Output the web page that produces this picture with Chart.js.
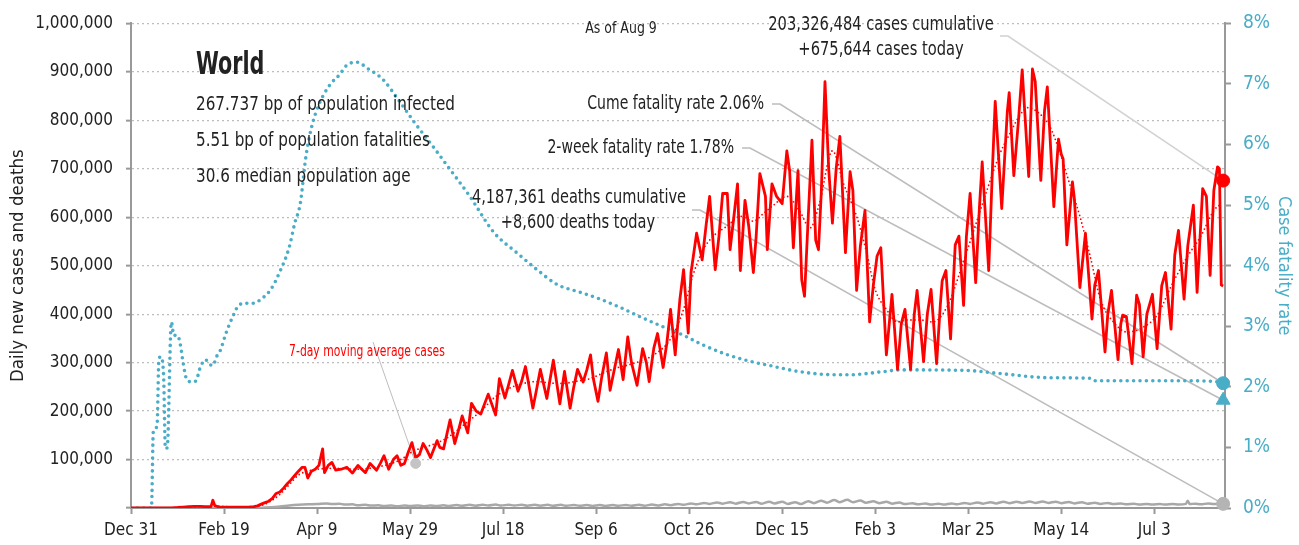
<!DOCTYPE html>
<html>
<head>
<meta charset="utf-8">
<script src="https://cdn.jsdelivr.net/npm/chart.js@4.4.1/dist/chart.umd.min.js"></script>
<style>
    body { margin: 0; background: #fff; }
    #wrap { width: 1299px; height: 545px; }
</style>
</head>
<body>
<div id="wrap"><canvas id="myChart" width="1299" height="545"></canvas></div>
<script>
// x axis = days since Dec 31 2019
const tickDays = [0, 50, 100, 150, 200, 250, 300, 350, 400, 450, 500, 550];
const tickLabels = ["Dec 31", "Feb 19", "Apr 9", "May 29", "Jul 18", "Sep 6", "Oct 26", "Dec 15", "Feb 3", "Mar 25", "May 14", "Jul 3"];

// daily new cases
const caseDays = [0,10,20,22,25,28,31,34,37,40,43,44,45,47,50,55,60,63,66,68,70,72,74,76,78,80,82,84,86,88,90,92,93.5,95,97,99,101,103,104,106,108,110,113,116,119,122,124,126,128.5,132,134,136,138.5,141,143,145,147,149,151,153,155,157,159,161,164.5,166,168,171.5,174,176,178,181,183,185.5,188,192,196,198,201,203,205,208,210,212,213.5,216,218,220,223.5,225,227,230.5,233,236,238,240,243,245,247,248.5,251,253,255.5,257.5,260,262,264.5,267,269,272,275,277,278.5,281,283,286,288,290,292.5,295,297,299.5,301,304,307,309,311,314,316,318,320.5,322,324,326,327.5,330,332,334.5,336,338,341,342,344.5,347,350,352.5,354,356,358.5,360.5,362,364,366,368,369.5,371,373,375,377,379,381,384,386.5,388,390,392,394.5,397,399,401,403,406,409,412,414,416,419,421,422.5,426,428,430,433,435,436,438,440.5,443,445,447.5,449,451,454,456,457.5,461,463,464.5,468,471,472,474.5,477,479,482.5,484.5,486,489,491,492.5,496,498.5,500,501,503,506,507,510,513,516.5,518,520,523.5,525,527,530.5,532,533,535,538,540.5,542,544,546,549,551.5,554,556,559,561,563,566,568,571,573,576,578,580,582,584,585,586,587];
const caseCounts = [0,0,100,300,1000,2000,3000,3500,3500,3000,3000,16000,5000,2500,2000,1500,1500,2000,3000,4500,8000,11000,14000,20000,30000,33000,41000,50000,58000,67000,76000,84000,84000,62000,76000,80000,88000,122000,73000,88000,94000,78000,80000,84000,72000,88000,80000,73000,92000,78000,92000,108000,80000,100000,108000,88000,92000,115000,135000,104000,110000,133000,120000,104000,139000,125000,122000,182000,133000,160000,190000,155000,216000,200000,194000,235000,192000,267000,227000,255000,284000,241000,262000,292000,261000,206000,245000,286000,226000,260000,305000,215000,282000,206000,250000,286000,260000,285000,316000,267000,220000,270000,320000,243000,290000,327000,265000,353000,300000,253000,329000,300000,261000,330000,360000,290000,340000,410000,316000,430000,492000,361000,486000,567000,512000,580000,643000,492000,560000,649000,649000,533000,600000,669000,490000,635000,582000,486000,560000,690000,643000,533000,669000,643000,628000,737000,696000,537000,696000,471000,437000,600000,759000,553000,533000,650000,880000,700000,588000,700000,767000,527000,694000,655000,449000,540000,614000,384000,460000,520000,537000,316000,441000,286000,380000,410000,286000,400000,449000,302000,400000,451000,298000,420000,469000,490000,349000,543000,561000,418000,560000,649000,465000,620000,714000,490000,700000,839000,618000,818000,857000,686000,800000,904000,684000,906000,880000,676000,820000,869000,622000,761000,730000,720000,543000,673000,640000,455000,567000,390000,460000,490000,322000,400000,449000,306000,380000,398000,395000,298000,439000,420000,312000,400000,441000,329000,459000,486000,369000,522000,573000,431000,541000,625000,445000,659000,643000,480000,655000,704000,700000,460000,458000];

// 7-day moving average of cases
const avgDays = [0,20,30,40,45,50,55,60,65,70,75,80,85,90,95,100,110,120,130,140,145,152,160,170,180,188,196,205,212,218,225,232,240,245,256,262,268,275,281,290,297,302,307.5,313,320.5,327.5,334.5,340,345,352.5,359.5,365,370,377,383,390,395,400,406,412,417,424,431,439,446,453,460,467,472,478,482,487,494,499.5,504.5,510,515.5,521,528,535.5,544,551.5,560,568,575,582,586];
const avgCounts = [0,200,2000,2800,4500,3000,2000,1500,2500,5000,14000,28000,48000,68000,76000,80000,82000,80000,83000,92000,100000,118000,128000,145000,175000,200000,230000,250000,258000,261000,258000,257000,262000,265000,282000,290000,296000,305000,316000,349000,410000,480000,533000,561000,582000,602000,592000,608000,624000,643000,612000,578000,628000,737000,669000,602000,533000,451000,410000,384000,388000,388000,384000,418000,492000,573000,655000,731000,770000,812000,826000,818000,786000,731000,669000,602000,520000,431000,384000,363000,373000,398000,465000,520000,561000,614000,628000];

// daily deaths
const deathDays = [0,20,30,40,50,60,65,70,75,80,85,90,95,100,105,108,112,115,119,122,126,129,133,136,140,143,147,150,154,157,161,164,168,171,175,178,182,185,189,192,196,199,203,206,210,213,217,220,224,227,231,234,238,241,245,248,252,255,259,262,266,269,273,276,280,283,287,290,294,297,301,304,308,311,315,318,322,325,329,332,336,339,343,346,350,353,357,360,364,367,371,374,378,381,385,388,392,395,399,402,406,409,413,416,420,423,427,430,434,437,441,444,448,451,455,458,462,465,469,472,476,479,483,486,490,493,497,500,504,507,511,514,518,521,525,528,532,535,539,542,546,549,553,556,560,563,567,568,569,572,575,579,582,586,587];
const deathCounts = [0,20,50,100,100,100,300,600,1500,3000,5000,6500,7500,8000,9500,8000,9000,7000,7500,5500,6500,5000,5500,4000,5000,3800,5000,4000,5200,3800,5000,4000,5500,4200,6000,4500,6500,4800,6800,5000,7000,5000,6800,5000,6800,4800,6500,4800,6500,4500,6500,4500,6300,4500,6000,4300,6000,4300,6000,4500,6300,4500,6500,4800,7000,5200,7500,5800,8500,6500,9500,7500,10500,8500,11500,9000,12000,9000,12500,9500,12500,9000,13000,9500,13000,8500,12000,8000,14000,10000,15000,11000,16500,12000,17000,12000,15500,11000,14000,10000,13000,9000,11500,8000,10000,7500,9500,7000,9000,7000,9500,7500,10500,8500,11500,9000,12000,9500,13000,10000,13000,10500,13500,10500,13500,10500,13000,10000,12500,9500,12000,9000,11000,8500,10500,8000,9500,7500,9000,7000,8500,7000,8000,7000,8500,7000,8500,15000,8000,9000,7500,9500,8000,10000,8600];

// case fatality rate (%), right axis
const cfrDays = [0,11,12,14,15,16,17.5,18.5,19.5,21.7,23,25,26.5,28,30,33,35,37,40,42,44,46,48,51,55,58,62,66,70,75,80,85,88,91,94,97,101,107,112,116,121.5,127,135.5,143,152,162.5,170,182,195,207.5,218,229,241.5,252,263,272,286,297,307.5,320.5,333,343.5,359.5,377.5,386.5,404,413.5,449.5,467,494,516,518,539,566,582,587];
const cfrValues = [0,0,1.27,1.35,2.45,2.5,2.2,0.98,1.0,3.07,2.85,2.85,2.7,2.4,2.12,2.08,2.1,2.3,2.45,2.38,2.35,2.5,2.6,2.88,3.18,3.35,3.38,3.38,3.45,3.6,3.9,4.3,4.7,5.03,5.8,6.28,6.66,6.99,7.15,7.31,7.36,7.26,7.07,6.77,6.38,5.96,5.65,5.15,4.55,4.21,3.94,3.69,3.56,3.45,3.31,3.18,2.99,2.85,2.69,2.53,2.42,2.35,2.25,2.2,2.2,2.25,2.28,2.27,2.22,2.15,2.14,2.1,2.1,2.1,2.09,2.06];

// latest values (Aug 9)
const lastDay = 587;
const lastCases = 675644;
const lastDeaths = 8600;
const cumeCfr = 2.06;
const twoWeekCfr = 1.78;
const avgNoteDay = 153;
const avgNoteValue = 92000;

const fontFam = "'DejaVu Sans Condensed', 'Liberation Sans Narrow', sans-serif";
const red = '#ff0000';
const teal = '#4aadc7';
const grey = '#a8a8a8';
const ink = '#222222';

function pairs(xs, ys) {
    let out = [];
    for (let i = 0; i < xs.length; i++) {
        out.push({ x: xs[i], y: ys[i] });
    }
    return out;
}

// leader lines (under the data) and text notes (on top)
const notesPlugin = {
    id: 'notes',
    beforeDatasetsDraw(chart) {
        const ctx = chart.ctx;
        const x = chart.scales.x, y = chart.scales.y, y2 = chart.scales.y2;
        const endX = x.getPixelForValue(lastDay);
        function leader(x0, y0, x1, y1, color, w) {
            ctx.save();
            ctx.strokeStyle = color;
            ctx.lineWidth = w;
            ctx.beginPath();
            ctx.moveTo(x0, y0);
            ctx.lineTo(x0 + 8, y0);
            ctx.lineTo(x1, y1);
            ctx.stroke();
            ctx.restore();
        }
        leader(1000, 36, endX, y.getPixelForValue(lastCases), '#d2d2d2', 1.6);
        leader(772, 104, endX, y2.getPixelForValue(cumeCfr), '#bdbdbd', 1.6);
        leader(742, 148, endX, y2.getPixelForValue(twoWeekCfr), '#bdbdbd', 1.6);
        leader(692, 210, endX, y.getPixelForValue(lastDeaths), '#bdbdbd', 1.6);
        // 7-day average pointer
        ctx.save();
        ctx.strokeStyle = '#bdbdbd';
        ctx.lineWidth = 1;
        ctx.beginPath();
        ctx.moveTo(373, 342);
        ctx.lineTo(x.getPixelForValue(avgNoteDay), y.getPixelForValue(avgNoteValue));
        ctx.stroke();
        ctx.restore();
    },
    afterDraw(chart) {
        const ctx = chart.ctx;
        // sx squeezes the text sideways, the reference face is narrow
        function txt(s, px, py, size, align, sx, color, weight) {
            ctx.save();
            ctx.font = (weight || 'normal') + ' ' + size + 'px ' + fontFam;
            ctx.fillStyle = color || ink;
            ctx.textAlign = align;
            ctx.textBaseline = 'middle';
            ctx.translate(px, py);
            ctx.scale(sx, 1);
            ctx.fillText(s, 0, 0);
            ctx.restore();
        }
        txt('World', 196, 66, 32, 'left', 0.72, ink, 'bold');
        txt('267.737 bp of population infected', 196, 105, 20, 'left', 0.845);
        txt('5.51 bp of population fatalities', 196, 141, 20, 'left', 0.845);
        txt('30.6 median population age', 196, 177, 20, 'left', 0.845);
        txt('As of Aug 9', 621, 29, 15, 'center', 0.93);
        txt('203,326,484 cases cumulative', 881, 25, 20, 'center', 0.815);
        txt('+675,644 cases today', 881, 50, 20, 'center', 0.815);
        txt('Cume fatality rate 2.06%', 764, 104, 20, 'right', 0.78);
        txt('2-week fatality rate 1.78%', 734, 148, 20, 'right', 0.78);
        txt('4,187,361 deaths cumulative', 579, 198, 20, 'center', 0.81);
        txt('+8,600 deaths today', 578, 223, 20, 'center', 0.81);
        txt('7-day moving average cases', 367, 352, 15, 'center', 0.8, red);
    }
};

Chart.defaults.font.family = fontFam;
Chart.defaults.color = ink;

const ctx = document.getElementById('myChart').getContext('2d');
const myChart = new Chart(ctx, {
    type: 'line',
    data: {
        datasets: [
            // end markers
            { data: [{ x: lastDay, y: lastCases }], yAxisID: 'y', showLine: false, pointRadius: 6.5, pointBackgroundColor: red, pointBorderColor: red, clip: false },
            { data: [{ x: lastDay, y: cumeCfr }], yAxisID: 'y2', showLine: false, pointRadius: 6.5, pointBackgroundColor: teal, pointBorderColor: teal, clip: false },
            { data: [{ x: lastDay, y: twoWeekCfr }], yAxisID: 'y2', showLine: false, pointStyle: 'triangle', pointRadius: 8, pointBackgroundColor: teal, pointBorderColor: teal, clip: false },
            { data: [{ x: lastDay, y: lastDeaths }], yAxisID: 'y', showLine: false, pointRadius: 6.5, pointBackgroundColor: '#b4b4b4', pointBorderColor: '#b4b4b4', clip: false },
            { data: [{ x: avgNoteDay, y: avgNoteValue }], yAxisID: 'y', showLine: false, pointRadius: 5, pointBackgroundColor: '#c4c4c4', pointBorderColor: '#c4c4c4' },
            // 7-day avg (dotted red)
            { data: pairs(avgDays, avgCounts), yAxisID: 'y', borderColor: red, borderWidth: 1.8, borderDash: [0, 4], borderCapStyle: 'round', pointRadius: 0, cubicInterpolationMode: 'monotone' },
            // daily cases
            { data: pairs(caseDays, caseCounts), yAxisID: 'y', borderColor: red, borderWidth: 2.8, pointRadius: 0, tension: 0, borderJoinStyle: 'round' },
            // daily deaths
            { data: pairs(deathDays, deathCounts), yAxisID: 'y', borderColor: grey, borderWidth: 2.5, pointRadius: 0, cubicInterpolationMode: 'monotone' },
            // case fatality rate (dotted teal)
            { data: pairs(cfrDays, cfrValues), yAxisID: 'y2', borderColor: teal, borderWidth: 3.6, borderDash: [0, 6.4], borderCapStyle: 'round', pointRadius: 0, cubicInterpolationMode: 'monotone' }
        ]
    },
    options: {
        responsive: false,
        animation: false,
        events: [],
        layout: { padding: { top: 18, left: 0, right: 0, bottom: 0 } },
        plugins: { legend: { display: false }, tooltip: { enabled: false } },
        scales: {
            x: {
                type: 'linear',
                min: 0,
                max: 588,
                afterFit: function (scale) { scale.height = 37; },
                grid: { drawOnChartArea: false, drawTicks: true, tickLength: 6, tickColor: '#999', tickWidth: 2 },
                border: { color: '#999', width: 2 },
                ticks: {
                    stepSize: 50,
                    includeBounds: false,
                    autoSkip: false,
                    maxRotation: 0,
                    padding: 6,
                    color: ink,
                    font: { size: 17 },
                    callback: function (v) {
                        let i = tickDays.indexOf(v);
                        return i >= 0 ? tickLabels[i] : '';
                    }
                }
            },
            y: {
                position: 'left',
                min: 0,
                max: 1000000,
                afterFit: function (scale) { scale.width = 131; },
                grid: { color: '#bdbdbd', lineWidth: 1.3, tickLength: 5, tickColor: '#999', tickWidth: 2, tickBorderDash: [6, 0] },
                border: { color: '#999', width: 2, dash: [2, 3] },
                ticks: {
                    stepSize: 100000,
                    padding: 13,
                    color: ink,
                    font: { size: 17 },
                    callback: function (v) { return v === 0 ? '' : v.toLocaleString('en-US'); }
                },
                title: { display: true, text: 'Daily new cases and deaths', color: ink, font: { size: 18.5 }, padding: { top: 7, bottom: 0 } }
            },
            y2: {
                position: 'right',
                min: 0,
                max: 8,
                afterFit: function (scale) { scale.width = 74; },
                grid: { drawOnChartArea: false, tickLength: 6, tickColor: '#999', tickWidth: 2 },
                border: { color: '#999', width: 2 },
                ticks: {
                    stepSize: 1,
                    padding: 12,
                    color: teal,
                    font: { size: 19 },
                    callback: function (v) { return v + '%'; }
                },
                title: { display: true, text: 'Case fatality rate', color: teal, font: { size: 18 }, padding: { top: 5, bottom: 0 } }
            }
        }
    },
    plugins: [notesPlugin]
});
</script>
</body>
</html>
